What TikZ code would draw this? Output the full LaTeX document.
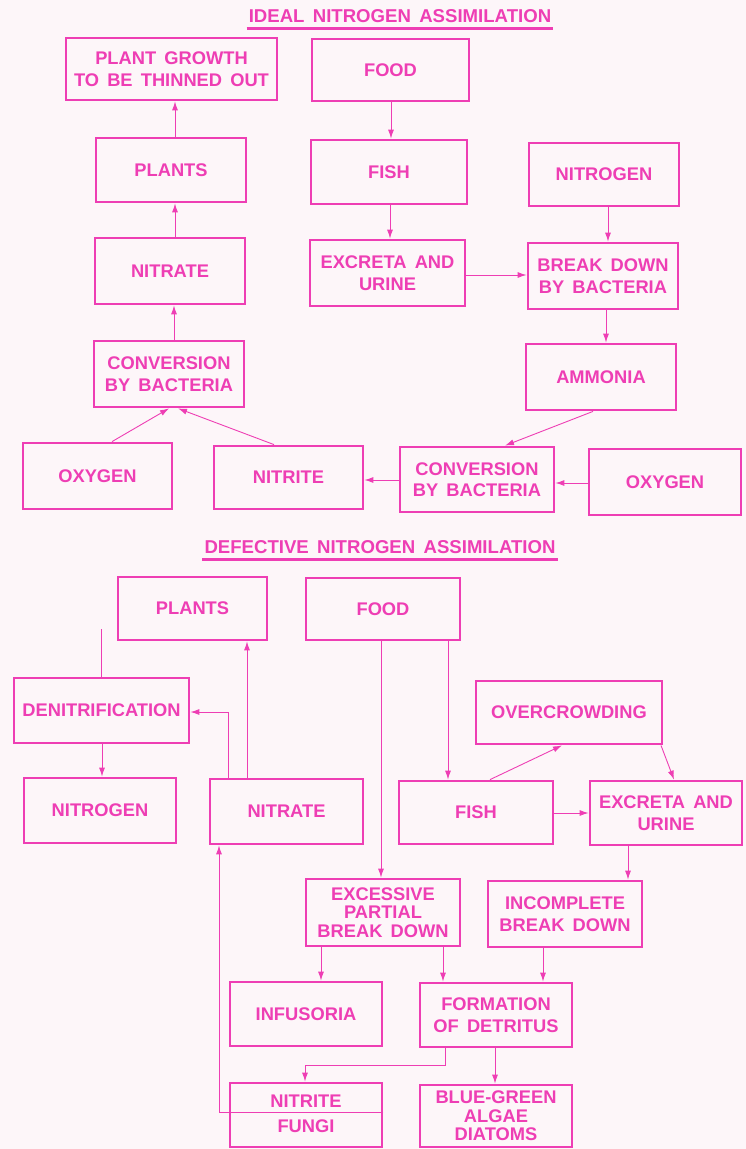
\documentclass[tikz,border=0pt]{standalone}
\usepackage{fontspec}
\setmainfont[WordSpace=1.6]{Liberation Sans}
\usetikzlibrary{arrows.meta}
\definecolor{pk}{RGB}{238,62,180}
\definecolor{bg}{RGB}{253,246,249}
\tikzset{
  box/.style={draw=pk, line width=2.8pt, text=pk, align=center, inner sep=0pt,
    font=\bfseries\fontsize{18.3}{21.5}\selectfont},
  tight/.style={font=\bfseries\fontsize{18.3}{18.5}\selectfont},
  lbl/.style={text=pk, inner sep=0pt, font=\bfseries\fontsize{18.3}{21}\selectfont},
  ttl/.style={text=pk, inner sep=0pt, font=\bfseries\fontsize{18.6}{21}\selectfont},
  uline/.style={draw=pk, line width=2.8pt},
  conn/.style={draw=pk, line width=0.9pt},
  arr/.style={conn, -{Latex[length=9pt,width=6pt]}}
}
\begin{document}
\begin{tikzpicture}[x=1pt,y=-1pt]
\fill[bg] (0,0) rectangle (746,1149);
\useasboundingbox (0,0) rectangle (746,1149);

% ---------- titles
\node[ttl] (t1) at (400,16) {IDEAL NITROGEN ASSIMILATION};
\draw[uline] ([xshift=-2pt,yshift=-6pt]t1.south west) -- ([xshift=2pt,yshift=-6pt]t1.south east);
\node[ttl] (t2) at (380,547) {DEFECTIVE NITROGEN ASSIMILATION};
\draw[uline] ([xshift=-2pt,yshift=-6pt]t2.south west) -- ([xshift=2pt,yshift=-6pt]t2.south east);

% ---------- ideal boxes
\node[box, minimum width=211pt, minimum height=62pt] (pg) at (171.5,69) {PLANT GROWTH\\TO BE THINNED OUT};
\node[box, minimum width=157pt, minimum height=62pt] (food1) at (390.5,70) {FOOD};
\node[box, minimum width=150pt, minimum height=64pt] (plants1) at (171,170) {PLANTS};
\node[box, minimum width=156pt, minimum height=64pt] (fish1) at (389,172) {FISH};
\node[box, minimum width=150pt, minimum height=63pt] (nitrogen1) at (604,174.5) {NITROGEN};
\node[box, minimum width=150pt, minimum height=66pt] (nitrate1) at (170,271) {NITRATE};
\node[box, minimum width=155pt, minimum height=66pt] (excreta1) at (387.5,273) {EXCRETA AND\\URINE};
\node[box, minimum width=150pt, minimum height=66pt] (bdown1) at (603,276) {BREAK DOWN\\BY BACTERIA};
\node[box, minimum width=150pt, minimum height=66pt] (conv1) at (169,374) {CONVERSION\\BY BACTERIA};
\node[box, minimum width=150pt, minimum height=66pt] (ammonia) at (601,377) {AMMONIA};
\node[box, minimum width=149pt, minimum height=66pt] (oxy1) at (97.5,476) {OXYGEN};
\node[box, minimum width=149pt, minimum height=63pt] (nitrite1) at (288.5,477.5) {NITRITE};
\node[box, minimum width=154pt, minimum height=65pt] (conv2) at (477,479.5) {CONVERSION\\BY BACTERIA};
\node[box, minimum width=152pt, minimum height=66pt] (oxy2) at (665,482) {OXYGEN};

% ---------- ideal connectors
\coordinate (c1a) at (391,0);
\draw[arr] (food1.south -| c1a) -- (fish1.north -| c1a);
\coordinate (c1b) at (390,0);
\draw[arr] (fish1.south -| c1b) -- (excreta1.north -| c1b);
\coordinate (c1c) at (0,275);
\draw[arr] (excreta1.east |- c1c) -- (bdown1.west |- c1c);
\coordinate (c1d) at (608,0);
\draw[arr] (nitrogen1.south -| c1d) -- (bdown1.north -| c1d);
\coordinate (c1e) at (606,0);
\draw[arr] (bdown1.south -| c1e) -- (ammonia.north -| c1e);
\coordinate (c1f) at (593,0);
\coordinate (c1g) at (505,0);
\draw[arr] (ammonia.south -| c1f) -- (conv2.north -| c1g);
\coordinate (c1h) at (0,483);
\draw[arr] (oxy2.west |- c1h) -- (conv2.east |- c1h);
\coordinate (c1i) at (0,480);
\draw[arr] (conv2.west |- c1i) -- (nitrite1.east |- c1i);
\coordinate (c1j) at (112,0);
\coordinate (c1k) at (169,0);
\draw[arr] (oxy1.north -| c1j) -- (conv1.south -| c1k);
\coordinate (c1l) at (274,0);
\coordinate (c1m) at (178,0);
\draw[arr] (nitrite1.north -| c1l) -- (conv1.south -| c1m);
\coordinate (c1n) at (174,0);
\draw[arr] (conv1.north -| c1n) -- (nitrate1.south -| c1n);
\coordinate (c1o) at (175,0);
\draw[arr] (nitrate1.north -| c1o) -- (plants1.south -| c1o);
\draw[arr] (plants1.north -| c1o) -- (pg.south -| c1o);

% ---------- defective boxes
\node[box, minimum width=149pt, minimum height=63pt] (plants2) at (192.5,608.5) {PLANTS};
\node[box, minimum width=154pt, minimum height=62pt] (food2) at (383,609) {FOOD};
\node[box, minimum width=175pt, minimum height=65pt] (denit) at (101.5,710.5) {DENITRIFICATION};
\node[box, minimum width=186pt, minimum height=63pt] (overc) at (569,712.5) {OVERCROWDING};
\node[box, minimum width=152pt, minimum height=65pt] (nitrogen2) at (100,810.5) {NITROGEN};
\node[box, minimum width=153pt, minimum height=65pt] (nitrate2) at (286.5,811.5) {NITRATE};
\node[box, minimum width=154pt, minimum height=63pt] (fish2) at (476,812.5) {FISH};
\node[box, minimum width=152pt, minimum height=64pt] (excreta2) at (666,813) {EXCRETA AND\\URINE};
\node[box, tight, minimum width=154pt, minimum height=67pt] (excess) at (383,912.5) {EXCESSIVE\\PARTIAL\\BREAK DOWN};
\node[box, minimum width=154pt, minimum height=66pt] (incompl) at (565,914) {INCOMPLETE\\BREAK DOWN};
\node[box, minimum width=152pt, minimum height=64pt] (infus) at (306,1014) {INFUSORIA};
\node[box, minimum width=152pt, minimum height=64pt] (formation) at (496,1015) {FORMATION\\OF DETRITUS};
\node[box, minimum width=152pt, minimum height=64pt] (nitfun) at (306,1115) {};
\node[lbl] (nitritelbl) at (306,1101) {NITRITE};
\node[lbl] (fungilbl) at (306,1126) {FUNGI};
\node[box, tight, minimum width=152pt, minimum height=62pt] (bluegreen) at (496,1116) {BLUE-GREEN\\ALGAE\\DIATOMS};

% ---------- defective connectors
\coordinate (free) at (101,629);
\draw[conn] (free) -- (denit.north -| free);
\coordinate (c2a) at (228,712);
\draw[arr] (nitrate2.north -| c2a) -- (c2a) -- (denit.east |- c2a);
\coordinate (c2b) at (247,0);
\draw[arr] (nitrate2.north -| c2b) -- (plants2.south -| c2b);
\coordinate (c2c) at (448,0);
\draw[arr] (food2.south -| c2c) -- (fish2.north -| c2c);
\coordinate (c2d) at (381,0);
\draw[arr] (food2.south -| c2d) -- (excess.north -| c2d);
\coordinate (c2e) at (490,0);
\coordinate (c2f) at (562,0);
\draw[arr] (fish2.north -| c2e) -- (overc.south -| c2f);
\coordinate (c2g) at (661,0);
\coordinate (c2h) at (674,0);
\draw[arr] (overc.south -| c2g) -- (excreta2.north -| c2h);
\coordinate (c2i) at (0,813);
\draw[arr] (fish2.east |- c2i) -- (excreta2.west |- c2i);
\coordinate (c2j) at (102,0);
\draw[arr] (denit.south -| c2j) -- (nitrogen2.north -| c2j);
\coordinate (c2k) at (628,0);
\draw[arr] (excreta2.south -| c2k) -- (incompl.north -| c2k);
\coordinate (c2l) at (321,0);
\draw[arr] (excess.south -| c2l) -- (infus.north -| c2l);
\coordinate (c2m) at (443,0);
\draw[arr] (excess.south -| c2m) -- (formation.north -| c2m);
\coordinate (c2n) at (543,0);
\draw[arr] (incompl.south -| c2n) -- (formation.north -| c2n);
\coordinate (c2o) at (445,1065);
\coordinate (c2p) at (305,1065);
\draw[arr] (formation.south -| c2o) -- (c2o) -- (c2p) -- (nitfun.north -| c2p);
\coordinate (c2q) at (495,0);
\draw[arr] (formation.south -| c2q) -- (bluegreen.north -| c2q);
\coordinate (c2r) at (219,1112);
\draw[arr] (nitfun.east |- c2r) -- (c2r) -- (nitrate2.south -| c2r);
\end{tikzpicture}
\end{document}
